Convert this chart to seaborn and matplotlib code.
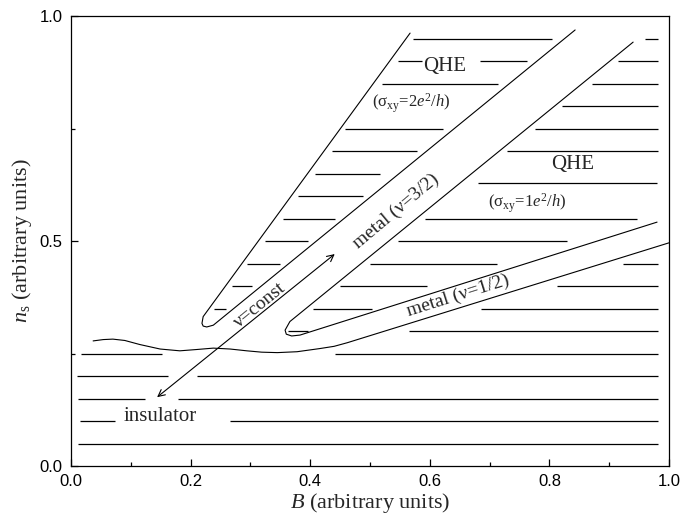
import numpy as np
import pandas as pd
import matplotlib
matplotlib.use('Agg')
import matplotlib.pyplot as plt
import seaborn as sns

sns.set_theme(style='ticks')
plt.rcParams['font.family'] = ['Liberation Serif', 'DejaVu Serif']
plt.rcParams['mathtext.fontset'] = 'custom'
plt.rcParams['mathtext.rm'] = 'Liberation Serif'
plt.rcParams['mathtext.it'] = 'Liberation Serif:italic'
plt.rcParams['mathtext.bf'] = 'Liberation Serif:bold'

# boundary of the insulator: wavy part, then the lower edge of the nu=1/2 band
wavy_x = [0.037, 0.054, 0.070, 0.090, 0.115, 0.149, 0.182, 0.211, 0.238, 0.266,
          0.294, 0.319, 0.345, 0.378, 0.416, 0.440, 0.462, 1.0]
wavy_y = [0.278, 0.281, 0.282, 0.279, 0.270, 0.260, 0.256, 0.259, 0.262, 0.260,
          0.256, 0.253, 0.252, 0.254, 0.261, 0.266, 0.274, 0.496]

# QHE (2e^2/h) finger
finger1_x = [0.567, 0.221, 0.219, 0.221, 0.227, 0.238, 0.843]
finger1_y = [0.962, 0.332, 0.317, 0.311, 0.309, 0.313, 0.969]

# QHE (1e^2/h) finger
finger2_x = [0.940, 0.366, 0.358, 0.360, 0.369, 0.383, 0.980]
finger2_y = [0.942, 0.321, 0.302, 0.293, 0.289, 0.291, 0.542]

# hatching (y level, start, end)
hatch_y = [0.05, 0.10, 0.10, 0.15, 0.15, 0.20, 0.20, 0.25, 0.25,
           0.30, 0.35, 0.40, 0.45,
           0.30, 0.35, 0.40, 0.45, 0.50, 0.55, 0.629, 0.70, 0.75, 0.80, 0.85, 0.90, 0.95,
           0.35, 0.40, 0.45, 0.50, 0.55, 0.60, 0.65, 0.70, 0.75, 0.85, 0.90, 0.90, 0.95]
hatch_x0 = [0.012, 0.015, 0.266, 0.012, 0.179, 0.010, 0.211, 0.017, 0.441,
            0.565, 0.686, 0.813, 0.923,
            0.363, 0.405, 0.450, 0.500, 0.547, 0.592, 0.681, 0.729, 0.776, 0.821, 0.871, 0.915, 0.960,
            0.239, 0.269, 0.294, 0.324, 0.355, 0.380, 0.408, 0.436, 0.458, 0.520, 0.547, 0.684, 0.572]
hatch_x1 = [0.982, 0.074, 0.982, 0.124, 0.982, 0.162, 0.982, 0.152, 0.982,
            0.982, 0.982, 0.982, 0.982,
            0.396, 0.503, 0.595, 0.712, 0.829, 0.947, 0.980, 0.982, 0.982, 0.982, 0.982, 0.982, 0.982,
            0.259, 0.303, 0.349, 0.396, 0.441, 0.488, 0.517, 0.579, 0.622, 0.714, 0.587, 0.763, 0.804]

arrow_start = (0.144, 0.153)
arrow_end = (0.441, 0.471)

fig = plt.figure(figsize=(6.94, 5.15), dpi=100)
ax = fig.add_axes([0.1023, 0.0951, 0.8617, 0.8738])

hatch = pd.DataFrame({'y': hatch_y, 'x0': hatch_x0, 'x1': hatch_x1})
ax.hlines(hatch['y'], hatch['x0'], hatch['x1'], color='black', lw=0.9)

for xs, ys in [(wavy_x, wavy_y), (finger1_x, finger1_y), (finger2_x, finger2_y)]:
    sns.lineplot(x=xs, y=ys, sort=False, estimator=None, color='black', lw=0.8, ax=ax)

ax.annotate('', xy=arrow_end, xytext=arrow_start,
            arrowprops=dict(arrowstyle='<->', lw=0.8, color='black',
                            mutation_scale=12, shrinkA=0, shrinkB=0))

ax.text(0.625, 0.887, 'QHE', fontsize=15, ha='center', va='center')
ax.text(0.569, 0.807, r'(σ$_{\rm xy}$=2$e^{2}$/$h$)', fontsize=12, ha='center', va='center')
ax.text(0.838, 0.671, 'QHE', fontsize=15, ha='center', va='center')
ax.text(0.763, 0.584, r'(σ$_{\rm xy}$=1$e^{2}$/$h$)', fontsize=12, ha='center', va='center')
ax.text(0.543, 0.567, 'metal (ν=3/2)', fontsize=14, ha='center', va='center', rotation=40,
        rotation_mode='anchor')
ax.text(0.316, 0.358, 'ν=const', fontsize=14, ha='center', va='center', rotation=39,
        rotation_mode='anchor')
ax.text(0.647, 0.378, 'metal (ν=1/2)', fontsize=14, ha='center', va='center', rotation=17.5,
        rotation_mode='anchor')
ax.text(0.149, 0.109, 'insulator', fontsize=15, ha='center', va='center')

ax.set_xlim(0, 1)
ax.set_ylim(0, 1)
ax.set_xticks(np.arange(0, 1.01, 0.2))
ax.set_xticks(np.arange(0, 1.01, 0.1), minor=True)
ax.set_yticks([0, 0.5, 1.0])
ax.set_yticks([0.25, 0.75], minor=True)
ax.xaxis.set_major_formatter(matplotlib.ticker.FormatStrFormatter('%.1f'))
ax.yaxis.set_major_formatter(matplotlib.ticker.FormatStrFormatter('%.1f'))
ax.tick_params(which='both', direction='in', color='black', width=0.9,
               labelsize=12, labelfontfamily='Liberation Sans', labelcolor='black')
ax.tick_params(which='major', length=5, pad=6)
ax.tick_params(which='minor', length=3)
for s in ax.spines.values():
    s.set_visible(True)
    s.set_color('black')
    s.set_linewidth(0.9)

ax.set_xlabel(r'$B$ (arbitrary units)', fontsize=16, labelpad=1)
ax.set_ylabel(r'$n_{\rm s}$ (arbitrary units)', fontsize=16, labelpad=4)

fig.savefig('out.png', dpi=100)
